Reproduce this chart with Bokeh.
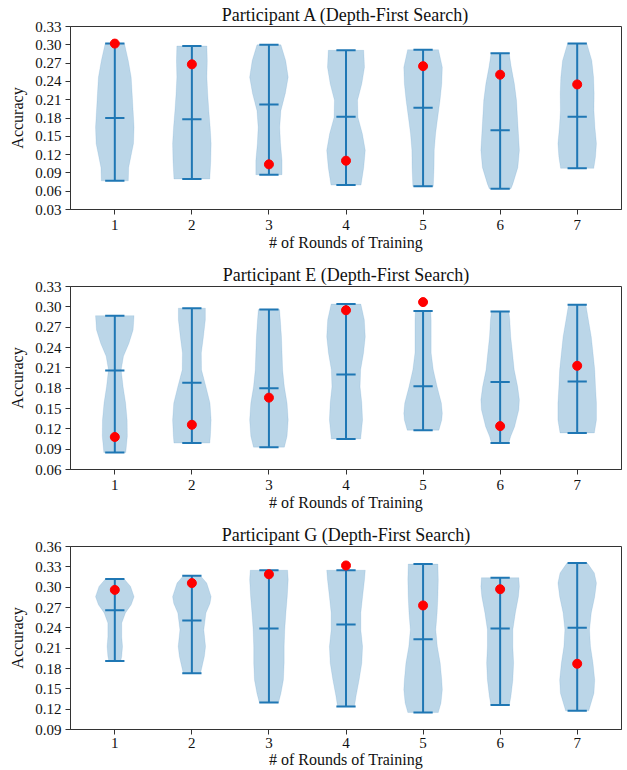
from bokeh.plotting import figure
from bokeh.layouts import column
from bokeh.models import Range1d, FixedTicker, NumeralTickFormatter
from bokeh.embed import file_html
from bokeh.resources import INLINE

# ---------------- data ----------------
rounds = [1, 2, 3, 4, 5, 6, 7]

# Participant A
a_title = "Participant A (Depth-First Search)"
a_yticks = [0.03, 0.06, 0.09, 0.12, 0.15, 0.18, 0.21, 0.24, 0.27, 0.30, 0.33]
a_min = [0.077, 0.080, 0.087, 0.070, 0.068, 0.064, 0.0975]
a_max = [0.302, 0.298, 0.300, 0.291, 0.292, 0.286, 0.302]
a_mid = [0.180, 0.178, 0.202, 0.182, 0.197, 0.160, 0.182]
a_dot = [0.302, 0.268, 0.104, 0.110, 0.265, 0.251, 0.235]
a_levels = [
    [0.077, 0.099, 0.121, 0.138, 0.165, 0.192, 0.220, 0.247, 0.274, 0.302],
    [0.080, 0.110, 0.138, 0.165, 0.192, 0.220, 0.247, 0.274, 0.298],
    [0.087, 0.110, 0.138, 0.165, 0.192, 0.220, 0.247, 0.274, 0.300],
    [0.070, 0.099, 0.127, 0.154, 0.181, 0.209, 0.236, 0.263, 0.291],
    [0.068, 0.099, 0.127, 0.154, 0.181, 0.209, 0.236, 0.263, 0.292],
    [0.064, 0.072, 0.099, 0.127, 0.154, 0.181, 0.209, 0.236, 0.263, 0.286],
    [0.0975, 0.116, 0.138, 0.165, 0.192, 0.220, 0.247, 0.274, 0.302],
]
a_widths = [
    [0.70, 0.72, 0.86, 0.97, 1.00, 0.95, 0.90, 0.85, 0.70, 0.50],
    [0.93, 0.98, 1.00, 0.95, 0.88, 0.82, 0.78, 0.80, 0.78],
    [0.68, 0.68, 0.60, 0.56, 0.62, 0.85, 1.00, 0.87, 0.62],
    [0.78, 0.92, 1.00, 0.85, 0.62, 0.60, 0.82, 0.96, 0.92],
    [0.53, 0.57, 0.58, 0.65, 0.76, 0.88, 0.97, 1.00, 0.80],
    [0.56, 0.66, 0.92, 1.00, 0.95, 0.90, 0.85, 0.74, 0.58, 0.47],
    [0.86, 0.95, 1.00, 0.92, 0.87, 0.88, 0.85, 0.76, 0.50],
]

# Participant E
e_title = "Participant E (Depth-First Search)"
e_yticks = [0.06, 0.09, 0.12, 0.15, 0.18, 0.21, 0.24, 0.27, 0.30, 0.33]
e_min = [0.085, 0.099, 0.093, 0.105, 0.118, 0.099, 0.114]
e_max = [0.287, 0.298, 0.296, 0.304, 0.294, 0.293, 0.303]
e_mid = [0.206, 0.188, 0.180, 0.200, 0.183, 0.189, 0.190]
e_dot = [0.108, 0.126, 0.166, 0.295, 0.307, 0.124, 0.213]
e_levels = [
    [0.085, 0.109, 0.133, 0.158, 0.182, 0.207, 0.227, 0.246, 0.266, 0.287],
    [0.099, 0.109, 0.133, 0.158, 0.182, 0.207, 0.232, 0.256, 0.281, 0.298],
    [0.093, 0.109, 0.133, 0.158, 0.182, 0.207, 0.232, 0.256, 0.281, 0.296],
    [0.105, 0.133, 0.158, 0.182, 0.207, 0.232, 0.256, 0.281, 0.304],
    [0.118, 0.133, 0.143, 0.158, 0.182, 0.207, 0.232, 0.256, 0.281, 0.294],
    [0.099, 0.109, 0.123, 0.148, 0.163, 0.182, 0.207, 0.232, 0.256, 0.281, 0.293],
    [0.114, 0.133, 0.158, 0.182, 0.207, 0.232, 0.256, 0.281, 0.303],
]
e_widths = [
    [0.57, 0.65, 0.64, 0.56, 0.43, 0.33, 0.45, 0.73, 0.95, 1.00],
    [0.93, 0.96, 1.00, 0.94, 0.73, 0.50, 0.49, 0.60, 0.70, 0.70],
    [0.80, 0.94, 1.00, 0.94, 0.80, 0.71, 0.68, 0.65, 0.59, 0.55],
    [0.76, 0.86, 0.82, 0.73, 0.76, 0.91, 1.00, 0.95, 0.77],
    [0.82, 0.97, 1.00, 0.95, 0.73, 0.53, 0.42, 0.42, 0.42, 0.40],
    [0.45, 0.55, 0.75, 0.97, 1.00, 0.91, 0.73, 0.64, 0.55, 0.50, 0.45],
    [0.89, 1.00, 1.00, 0.95, 0.91, 0.82, 0.73, 0.58, 0.45],
]

# Participant G
g_title = "Participant G (Depth-First Search)"
g_yticks = [0.09, 0.12, 0.15, 0.18, 0.21, 0.24, 0.27, 0.30, 0.33, 0.36]
g_min = [0.191, 0.173, 0.130, 0.124, 0.115, 0.126, 0.1175]
g_max = [0.312, 0.317, 0.325, 0.325, 0.334, 0.314, 0.3355]
g_mid = [0.266, 0.251, 0.239, 0.245, 0.223, 0.239, 0.240]
g_dot = [0.296, 0.306, 0.319, 0.332, 0.273, 0.297, 0.187]
g_levels = [
    [0.191, 0.198, 0.2125, 0.227, 0.247, 0.262, 0.274, 0.286, 0.301, 0.312],
    [0.173, 0.183, 0.198, 0.2125, 0.237, 0.262, 0.276, 0.286, 0.306, 0.317],
    [0.130, 0.143, 0.163, 0.188, 0.2125, 0.237, 0.262, 0.286, 0.311, 0.325],
    [0.124, 0.139, 0.163, 0.188, 0.2125, 0.237, 0.262, 0.286, 0.311, 0.325],
    [0.115, 0.129, 0.1485, 0.163, 0.188, 0.2125, 0.237, 0.262, 0.286, 0.311, 0.334],
    [0.126, 0.139, 0.163, 0.188, 0.2125, 0.237, 0.262, 0.286, 0.301, 0.314],
    [0.1175, 0.1436, 0.163, 0.188, 0.2125, 0.237, 0.262, 0.286, 0.306, 0.321, 0.3355],
]
g_widths = [
    [0.31, 0.36, 0.40, 0.36, 0.36, 0.55, 0.85, 1.00, 0.82, 0.49],
    [0.45, 0.53, 0.65, 0.71, 0.62, 0.73, 0.94, 1.00, 0.77, 0.44],
    [0.50, 0.62, 0.75, 0.79, 0.79, 0.82, 0.88, 0.95, 1.00, 0.97],
    [0.44, 0.52, 0.68, 0.82, 0.86, 0.77, 0.77, 0.86, 0.96, 1.00],
    [0.79, 0.93, 1.00, 0.97, 0.89, 0.74, 0.66, 0.73, 0.77, 0.79, 0.77],
    [0.48, 0.56, 0.66, 0.70, 0.66, 0.66, 0.79, 0.95, 1.00, 0.97],
    [0.60, 0.87, 0.91, 0.82, 0.69, 0.64, 0.73, 0.91, 1.00, 0.89, 0.53],
]

x_ticks = rounds
x_label = "# of Rounds of Training"
y_label = "Accuracy"

# ---------------- style ----------------
FONT = "Liberation Serif"
BLUE = "#1f77b4"
HALF = 0.25   # max half-width of a violin (x units)
CAP = 0.125   # half-length of the caps


def make_panel(title, yticks, vmin, vmax, vmid, vdot, levels, widths,
               height, top, bottom, tick_standoff=5, label_standoff=1):
    p = figure(width=623, height=height, output_backend="svg",
               toolbar_location=None, title=title,
               x_range=Range1d(0.425, 7.575),
               y_range=Range1d(yticks[0], yticks[-1]),
               min_border_left=70, min_border_right=2,
               min_border_top=top, min_border_bottom=bottom)
    p.title.align = "center"
    p.title.text_font = FONT
    p.title.text_font_size = "18px"
    p.title.text_font_style = "normal"
    p.title.text_color = "#111111"
    p.title.standoff = 4

    xs, ys = [], []
    for pos, lv, wd in zip(rounds, levels, widths):
        left = [pos - w * HALF for w in wd]
        right = [pos + w * HALF for w in wd]
        xs.append(left + right[::-1])
        ys.append(list(lv) + list(lv)[::-1])
    p.patches(xs, ys, fill_color=BLUE, fill_alpha=0.3, line_color=BLUE,
              line_alpha=0.12, line_width=1)

    p.segment(x0=rounds, y0=vmin, x1=rounds, y1=vmax, line_color=BLUE,
              line_width=2)
    for vals in (vmin, vmax, vmid):
        p.segment(x0=[r - CAP for r in rounds], y0=vals,
                  x1=[r + CAP for r in rounds], y1=vals,
                  line_color=BLUE, line_width=2)
    p.scatter(rounds, vdot, size=9, fill_color="red", line_color="red")

    p.xgrid.visible = False
    p.ygrid.visible = False
    p.outline_line_color = "#333333"
    p.outline_line_width = 1

    p.xaxis.ticker = FixedTicker(ticks=x_ticks)
    p.yaxis.ticker = FixedTicker(ticks=yticks)
    p.yaxis.formatter = NumeralTickFormatter(format="0.00")
    for ax in (p.xaxis[0], p.yaxis[0]):
        ax.axis_line_color = "#333333"
        ax.major_tick_line_color = "#333333"
        ax.major_tick_out = 5
        ax.major_tick_in = 0
        ax.minor_tick_line_color = None
        ax.major_label_text_font = FONT
        ax.major_label_text_font_size = "15px"
        ax.major_label_text_color = "#111111"
        ax.axis_label_text_font = FONT
        ax.axis_label_text_font_size = "16px"
        ax.axis_label_text_font_style = "normal"
        ax.axis_label_text_color = "#111111"
    p.xaxis.axis_label = x_label
    p.yaxis.axis_label = y_label
    p.xaxis.major_label_standoff = tick_standoff
    p.xaxis.axis_label_standoff = label_standoff
    p.yaxis.major_label_standoff = 4
    p.yaxis.axis_label_standoff = 6
    return p


p1 = make_panel(a_title, a_yticks, a_min, a_max, a_mid, a_dot, a_levels,
                a_widths, 260, 26, 51)
p2 = make_panel(e_title, e_yticks, e_min, e_max, e_mid, e_dot, e_levels,
                e_widths, 260, 26, 51)
p3 = make_panel(g_title, g_yticks, g_min, g_max, g_mid, g_dot, g_levels,
                g_widths, 250, 26, 41, tick_standoff=3, label_standoff=0)

layout = column(p1, p2, p3, spacing=0)
open("out.html", "w").write(file_html(layout, INLINE))
